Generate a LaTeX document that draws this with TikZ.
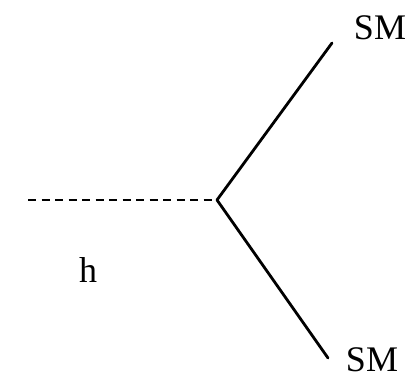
\documentclass[tikz,border=0pt]{standalone}
\usepackage{fontspec}
\setmainfont{Liberation Serif}
\begin{document}
\begin{tikzpicture}[x=1pt,y=1pt,
  lbl/.style={font=\fontsize{36}{40}\selectfont, inner sep=0pt},
  fermion/.style={line width=2.8pt, line cap=round},
  scalar/.style={line width=2.8pt, dash pattern=on 8pt off 5.5pt}]
\useasboundingbox (0,0) rectangle (408,380);
\coordinate (hin) at (28,180);
\coordinate (v) at (217,180);
\coordinate (t) at (332,337);
\coordinate (b) at (328,22);
\node[lbl] (smt) at (380,352) {SM};
\node[lbl] (smb) at (372,20) {SM};
\node[lbl] (h) at (88,110) {h};
\draw[scalar] (hin) -- (v);
\draw[fermion] (v) -- (t);
\draw[fermion] (v) -- (b);
\end{tikzpicture}
\end{document}
